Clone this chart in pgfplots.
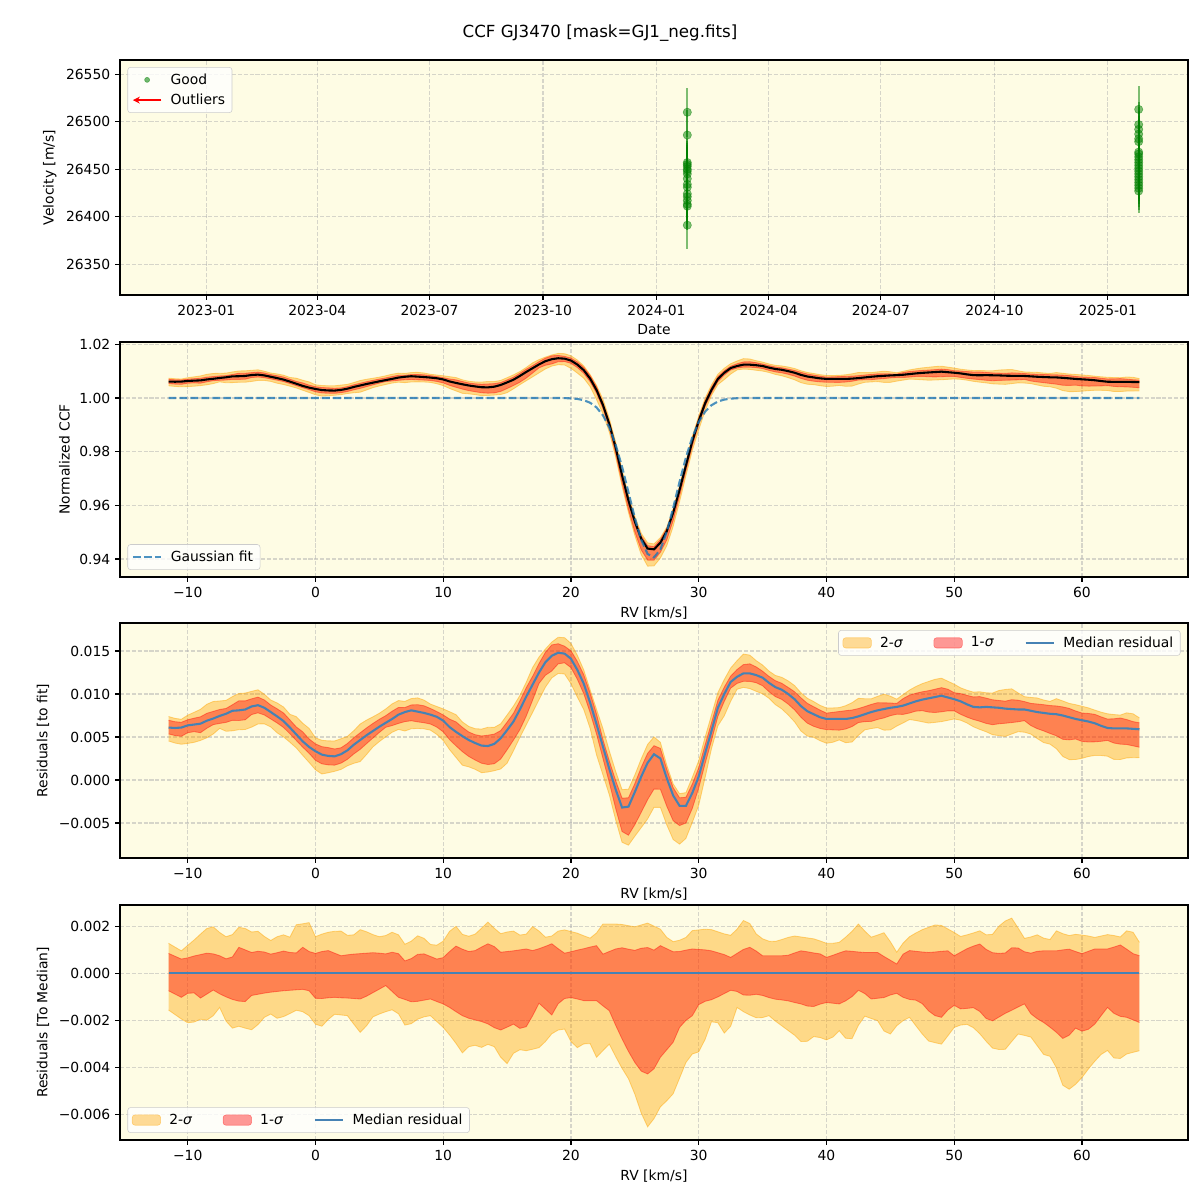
\documentclass[border=0pt]{standalone}
\usepackage{fontspec}
\setmainfont{DejaVu Sans}
\usepackage{pgfplots}
\usepackage{pgfplotstable}
\pgfplotsset{compat=1.18}
\usepgfplotslibrary{fillbetween}
\usetikzlibrary{arrows.meta}
\definecolor{bgy}{HTML}{FEFCE4}
\definecolor{gridc}{HTML}{B0B0B0}
\definecolor{mplgreen}{HTML}{008000}
\definecolor{mplorange}{HTML}{FFA500}
\definecolor{steel}{HTML}{4682B4}
\definecolor{fitblue}{HTML}{1F77B4}

\pgfplotstableread{
d v e
390 26510 26
390 26486 26
390 26457 25
390 26455 25
390 26453 25
390 26450 25
390 26448 25
390 26445 25
390 26440 25
390 26434 25
390 26431 25
390 26424 25
390 26421 25
390 26417 25
390 26413 25
390 26411 25
390 26391 25
756 26513 25
756 26497 24
756 26492 24
756 26487 24
756 26482 24
756 26479 24
756 26468 23
756 26466 23
756 26463 23
756 26460 23
756 26457 23
756 26454 23
756 26451 23
756 26448 23
756 26445 23
756 26442 23
756 26439 23
756 26436 23
756 26433 23
756 26430 23
756 26427 23
}\rvtab

\pgfplotstableread{
rv fit med lo2 lo1 hi1 hi2
-11.5 1 0.00610 -0.00156 -0.00074 0.00085 0.00128
-11.0 1 0.00605 -0.00175 -0.00088 0.00073 0.00112
-10.5 1 0.00610 -0.00194 -0.00102 0.00061 0.00096
-10.0 1 0.00635 -0.00210 -0.00085 0.00066 0.00119
-9.5 1 0.00645 -0.00207 -0.00083 0.00074 0.00142
-9.0 1 0.00655 -0.00195 -0.00105 0.00080 0.00167
-8.5 1 0.00690 -0.00199 -0.00088 0.00086 0.00191
-8.0 1 0.00715 -0.00180 -0.00071 0.00083 0.00198
-7.5 1 0.00745 -0.00145 -0.00087 0.00075 0.00174
-7.0 1 0.00770 -0.00203 -0.00100 0.00062 0.00156
-6.5 1 0.00805 -0.00233 -0.00111 0.00070 0.00165
-6.0 1 0.00810 -0.00225 -0.00118 0.00111 0.00196
-5.5 1 0.00820 -0.00233 -0.00120 0.00100 0.00191
-5.0 1 0.00855 -0.00240 -0.00094 0.00089 0.00176
-4.5 1 0.00870 -0.00218 -0.00089 0.00094 0.00179
-4.0 1 0.00840 -0.00187 -0.00084 0.00091 0.00157
-3.5 1 0.00790 -0.00173 -0.00080 0.00082 0.00140
-3.0 1 0.00740 -0.00191 -0.00077 0.00088 0.00156
-2.5 1 0.00685 -0.00184 -0.00074 0.00095 0.00164
-2.0 1 0.00610 -0.00171 -0.00072 0.00089 0.00154
-1.5 1 0.00530 -0.00157 -0.00070 0.00087 0.00207
-1.0 1 0.00450 -0.00163 -0.00068 0.00111 0.00211
-0.5 1 0.00385 -0.00180 -0.00074 0.00093 0.00216
0.0 1 0.00335 -0.00216 -0.00106 0.00085 0.00156
0.5 1 0.00295 -0.00225 -0.00107 0.00093 0.00167
1.0 1 0.00280 -0.00196 -0.00104 0.00097 0.00175
1.5 1 0.00275 -0.00174 -0.00102 0.00086 0.00179
2.0 1 0.00300 -0.00177 -0.00104 0.00075 0.00180
2.5 1 0.00345 -0.00180 -0.00105 0.00079 0.00162
3.0 1 0.00410 -0.00216 -0.00107 0.00082 0.00164
3.5 1 0.00465 -0.00251 -0.00109 0.00084 0.00186
4.0 1 0.00520 -0.00223 -0.00097 0.00086 0.00177
4.5 1 0.00570 -0.00185 -0.00082 0.00088 0.00165
5.0 1 0.00620 -0.00173 -0.00067 0.00086 0.00156
5.5 1 0.00665 -0.00163 -0.00052 0.00083 0.00161
6.0 1 0.00710 -0.00155 -0.00077 0.00090 0.00175
6.5 1 0.00760 -0.00172 -0.00102 0.00084 0.00164
7.0 1 0.00790 -0.00220 -0.00111 0.00053 0.00124
7.5 1 0.00810 -0.00214 -0.00121 0.00063 0.00137
8.0 1 0.00795 -0.00195 -0.00119 0.00081 0.00160
8.5 1 0.00780 -0.00185 -0.00114 0.00083 0.00149
9.0 1 0.00760 -0.00180 -0.00109 0.00072 0.00123
9.5 1 0.00735 -0.00205 -0.00120 0.00061 0.00120
10.0 1 0.00690 -0.00230 -0.00130 0.00067 0.00137
10.5 1 0.00615 -0.00262 -0.00145 0.00093 0.00179
11.0 1 0.00560 -0.00298 -0.00163 0.00116 0.00200
11.5 1 0.00510 -0.00338 -0.00180 0.00103 0.00166
12.0 1 0.00465 -0.00312 -0.00191 0.00093 0.00158
12.5 1 0.00430 -0.00306 -0.00198 0.00097 0.00167
13.0 1 0.00400 -0.00315 -0.00205 0.00112 0.00192
13.5 1 0.00395 -0.00302 -0.00215 0.00126 0.00218
14.0 1 0.00420 -0.00312 -0.00231 0.00114 0.00192
14.5 1 0.00485 -0.00357 -0.00241 0.00090 0.00169
15.0 1 0.00580 -0.00384 -0.00229 0.00093 0.00176
15.5 1 0.00680 -0.00340 -0.00216 0.00096 0.00180
16.0 1 0.00820 -0.00325 -0.00234 0.00100 0.00163
16.5 1 0.00970 -0.00329 -0.00227 0.00104 0.00167
17.0 1 0.01110 -0.00323 -0.00180 0.00097 0.00199
17.5 1 0.01250 -0.00316 -0.00127 0.00105 0.00180
18.0 1 0.01370 -0.00290 -0.00152 0.00115 0.00154
18.5 1 0.01445 -0.00257 -0.00177 0.00126 0.00159
19.0 1 0.01480 -0.00241 -0.00129 0.00105 0.00180
19.5 0.99994 0.01470 -0.00237 -0.00107 0.00086 0.00185
20.0 0.99985 0.01410 -0.00290 -0.00103 0.00092 0.00178
20.5 0.99963 0.01280 -0.00316 -0.00109 0.00099 0.00171
21.0 0.99916 0.01120 -0.00300 -0.00116 0.00105 0.00160
21.5 0.99822 0.00900 -0.00299 -0.00116 0.00112 0.00150
22.0 0.99648 0.00650 -0.00357 -0.00116 0.00118 0.00172
22.5 0.99355 0.00390 -0.00329 -0.00138 0.00082 0.00210
23.0 0.98901 0.00130 -0.00301 -0.00159 0.00093 0.00210
23.5 0.98258 -0.00110 -0.00354 -0.00221 0.00104 0.00210
24.0 0.97435 -0.00320 -0.00404 -0.00279 0.00109 0.00208
24.5 0.96489 -0.00310 -0.00448 -0.00332 0.00103 0.00203
25.0 0.95531 -0.00140 -0.00514 -0.00379 0.00098 0.00198
25.5 0.94714 0.00040 -0.00594 -0.00416 0.00107 0.00206
26.0 0.94187 0.00200 -0.00653 -0.00428 0.00110 0.00214
26.5 0.94059 0.00300 -0.00618 -0.00406 0.00099 0.00201
27.0 0.94355 0.00250 -0.00568 -0.00357 0.00118 0.00188
27.5 0.95014 0.00020 -0.00542 -0.00325 0.00105 0.00153
28.0 0.95906 -0.00180 -0.00512 -0.00293 0.00092 0.00135
28.5 0.96876 -0.00300 -0.00446 -0.00230 0.00093 0.00141
29.0 0.97784 -0.00300 -0.00379 -0.00200 0.00099 0.00153
29.5 0.98538 -0.00150 -0.00343 -0.00180 0.00104 0.00182
30.0 0.99104 0.00040 -0.00334 -0.00133 0.00102 0.00185
30.5 0.99489 0.00310 -0.00281 -0.00119 0.00100 0.00188
31.0 0.99730 0.00570 -0.00206 -0.00112 0.00096 0.00186
31.5 0.99867 0.00840 -0.00210 -0.00100 0.00088 0.00177
32.0 0.99939 0.01000 -0.00254 -0.00086 0.00080 0.00168
32.5 0.99974 0.01140 -0.00225 -0.00072 0.00068 0.00162
33.0 0.99990 0.01200 -0.00145 -0.00077 0.00085 0.00188
33.5 1 0.01240 -0.00163 -0.00092 0.00102 0.00225
34.0 1 0.01240 -0.00177 -0.00093 0.00111 0.00212
34.5 1 0.01220 -0.00189 -0.00089 0.00095 0.00168
35.0 1 0.01190 -0.00188 -0.00094 0.00075 0.00147
35.5 1 0.01130 -0.00180 -0.00103 0.00075 0.00137
36.0 1 0.01080 -0.00203 -0.00110 0.00075 0.00136
36.5 1 0.01050 -0.00223 -0.00113 0.00075 0.00144
37.0 1 0.01000 -0.00243 -0.00117 0.00077 0.00153
37.5 1 0.00940 -0.00263 -0.00124 0.00087 0.00159
38.0 1 0.00860 -0.00290 -0.00130 0.00096 0.00155
38.5 1 0.00800 -0.00289 -0.00139 0.00092 0.00151
39.0 1 0.00765 -0.00269 -0.00141 0.00087 0.00147
39.5 1 0.00730 -0.00273 -0.00131 0.00083 0.00138
40.0 1 0.00710 -0.00283 -0.00124 0.00068 0.00128
40.5 1 0.00710 -0.00271 -0.00127 0.00077 0.00128
41.0 1 0.00710 -0.00244 -0.00130 0.00087 0.00132
41.5 1 0.00710 -0.00276 -0.00117 0.00096 0.00154
42.0 1 0.00720 -0.00278 -0.00099 0.00094 0.00179
42.5 1 0.00740 -0.00221 -0.00072 0.00091 0.00210
43.0 1 0.00765 -0.00182 -0.00086 0.00089 0.00180
43.5 1 0.00790 -0.00192 -0.00109 0.00089 0.00154
44.0 1 0.00810 -0.00201 -0.00106 0.00089 0.00163
44.5 1 0.00825 -0.00245 -0.00103 0.00072 0.00173
45.0 1 0.00840 -0.00258 -0.00092 0.00056 0.00135
45.5 1 0.00850 -0.00223 -0.00085 0.00040 0.00090
46.0 1 0.00865 -0.00201 -0.00102 0.00082 0.00129
46.5 1 0.00890 -0.00187 -0.00111 0.00097 0.00156
47.0 1 0.00915 -0.00223 -0.00114 0.00094 0.00172
47.5 1 0.00935 -0.00258 -0.00129 0.00091 0.00186
48.0 1 0.00950 -0.00288 -0.00160 0.00089 0.00196
48.5 1 0.00965 -0.00295 -0.00180 0.00091 0.00206
49.0 1 0.00980 -0.00301 -0.00187 0.00094 0.00204
49.5 1 0.00960 -0.00266 -0.00156 0.00096 0.00189
50.0 1 0.00940 -0.00230 -0.00136 0.00075 0.00174
50.5 1 0.00915 -0.00220 -0.00151 0.00090 0.00157
51.0 1 0.00880 -0.00217 -0.00149 0.00105 0.00164
51.5 1 0.00850 -0.00231 -0.00146 0.00116 0.00172
52.0 1 0.00845 -0.00257 -0.00162 0.00125 0.00181
52.5 1 0.00850 -0.00289 -0.00192 0.00102 0.00164
53.0 1 0.00845 -0.00318 -0.00202 0.00088 0.00166
53.5 1 0.00840 -0.00324 -0.00186 0.00085 0.00201
54.0 1 0.00830 -0.00323 -0.00170 0.00087 0.00223
54.5 1 0.00825 -0.00290 -0.00157 0.00109 0.00235
55.0 1 0.00820 -0.00258 -0.00143 0.00108 0.00193
55.5 1 0.00820 -0.00264 -0.00130 0.00092 0.00149
56.0 1 0.00805 -0.00271 -0.00172 0.00086 0.00155
56.5 1 0.00790 -0.00308 -0.00193 0.00094 0.00164
57.0 1 0.00780 -0.00345 -0.00209 0.00096 0.00150
57.5 1 0.00770 -0.00353 -0.00229 0.00096 0.00144
58.0 1 0.00765 -0.00402 -0.00251 0.00096 0.00181
58.5 1 0.00750 -0.00476 -0.00277 0.00100 0.00169
59.0 1 0.00730 -0.00493 -0.00263 0.00103 0.00161
59.5 1 0.00710 -0.00472 -0.00233 0.00093 0.00166
60.0 1 0.00695 -0.00443 -0.00246 0.00084 0.00163
60.5 1 0.00680 -0.00407 -0.00238 0.00094 0.00159
61.0 1 0.00660 -0.00374 -0.00216 0.00104 0.00153
61.5 1 0.00630 -0.00345 -0.00180 0.00104 0.00159
62.0 1 0.00605 -0.00328 -0.00145 0.00104 0.00165
62.5 1 0.00600 -0.00360 -0.00170 0.00112 0.00161
63.0 1 0.00600 -0.00362 -0.00183 0.00121 0.00155
63.5 1 0.00600 -0.00343 -0.00187 0.00103 0.00181
64.0 1 0.00595 -0.00336 -0.00198 0.00084 0.00175
64.5 1 0.00590 -0.00329 -0.00209 0.00075 0.00132
}\res

\pgfplotsset{
  base/.style={
    scale only axis, width=768.96pt, height=169.2pt, anchor=south west,
    axis background/.style={fill=bgy},
    grid=major,
    major grid style={draw=gridc, draw opacity=0.5, line width=0.8pt, dash pattern=on 2.96pt off 1.28pt},
    axis line style={line width=0.8pt, black},
    tick align=outside, major tick length=3.5pt,
    every tick/.style={black, line width=0.8pt},
    tick pos=left,
    scaled ticks=false,
    ticklabel style={font=\fontsize{10}{12}\selectfont},
    label style={font=\fontsize{10}{12}\selectfont},
    legend cell align=left,
    legend style={font=\fontsize{10}{12}\selectfont, draw=black!20, rounded corners=2pt,
      fill=white, fill opacity=0.8, text opacity=1,
      inner xsep=3pt, inner ysep=2.5pt, row sep=1.5pt,
      /tikz/every odd column/.append style={column sep=4pt}},
  },
  rvaxis/.style={
    xmin=-15.3, xmax=68.3,
    xtick={-10,0,10,20,30,40,50,60},
    xticklabels={−10,0,10,20,30,40,50,60},
    xlabel={RV [km/s]},
  },
  threeleg/.style={
    legend columns=3,
    legend style={/tikz/every even column/.append style={column sep=20pt}},
  },
  patchleg/.style={legend image code/.code={\draw[#1] (0cm,-0.13cm) rectangle (0.72cm,0.13cm);}},
  lineleg/.style={legend image code/.code={\draw[#1] (0cm,0cm) -- (0.72cm,0cm);}},
  e2/.style={forget plot, draw=mplorange, draw opacity=0.45, line width=0.6pt},
  e1/.style={forget plot, draw=red, draw opacity=0.4, line width=0.6pt},
  f2/.style={forget plot, fill=mplorange, fill opacity=0.4, draw=none},
  f1/.style={forget plot, fill=red, fill opacity=0.4, draw=none},
}

\begin{document}
\begin{tikzpicture}
\path (0pt,0pt) rectangle (864pt,864pt);
\node[font=\fontsize{12}{14}\selectfont] at (432pt,840.2pt) {CCF GJ3470 [mask=GJ1\_neg.fits]};

% ---------------- Panel 1
\begin{axis}[base, at={(86.4pt,651.6pt)},
  xmin=-70, xmax=796, ymin=26317.4, ymax=26565.1,
  xtick={0,90,181,273,365,456,547,639,731},
  xticklabels={2023-01,2023-04,2023-07,2023-10,2024-01,2024-04,2024-07,2024-10,2025-01},
  ytick={26350,26400,26450,26500,26550},
  yticklabels={26350,26400,26450,26500,26550},
  xlabel={Date}, ylabel={Velocity [m/s]},
  legend style={at={(0.007,0.97)}, anchor=north west}]
\addlegendimage{legend image code/.code={\fill[mplgreen, opacity=0.55] (0.36cm,0cm) circle (1.8pt);}}
\addlegendentry{Good}
\addlegendimage{legend image code/.code={\draw[red, line width=1.4pt, -{Stealth[length=5pt, width=5pt]}] (0.72cm,0cm) -- (0cm,0cm);}}
\addlegendentry{Outliers}
\addplot[forget plot, only marks, mark=*, mark size=3pt,
  mark options={draw=mplgreen, fill=mplgreen, opacity=0.5},
  error bars/.cd, y dir=both, y explicit, error mark=none,
  error bar style={mplgreen, opacity=0.5, line width=1.3pt}]
  table[x=d, y=v, y error=e] {\rvtab};
\end{axis}

% ---------------- Panel 2
\begin{axis}[base, rvaxis, at={(86.4pt,448.56pt)},
  ymin=0.93329, ymax=1.02086,
  ytick={0.94,0.96,0.98,1.00,1.02},
  yticklabels={0.94,0.96,0.98,1.00,1.02},
  ylabel={Normalized CCF},
  legend style={at={(0.007,0.03)}, anchor=south west}]
\addlegendimage{lineleg, fitblue, opacity=0.8, line width=1.5pt, dash pattern=on 5.5pt off 2.4pt}
\addlegendentry{Gaussian fit}
\addplot[e2, name path=pa2] table[x=rv, y expr=\thisrow{fit}+\thisrow{med}+\thisrow{hi2}] {\res};
\addplot[e2, name path=pb2] table[x=rv, y expr=\thisrow{fit}+\thisrow{med}+\thisrow{lo2}] {\res};
\addplot[f2] fill between[of=pa2 and pb2];
\addplot[e1, name path=pa1] table[x=rv, y expr=\thisrow{fit}+\thisrow{med}+\thisrow{hi1}] {\res};
\addplot[e1, name path=pb1] table[x=rv, y expr=\thisrow{fit}+\thisrow{med}+\thisrow{lo1}] {\res};
\addplot[f1] fill between[of=pa1 and pb1];
\addplot[forget plot, black, line width=1.5pt] table[x=rv, y expr=\thisrow{fit}+\thisrow{med}] {\res};
\addplot[forget plot, fitblue, opacity=0.8, line width=1.5pt, dash pattern=on 5.5pt off 2.4pt] table[x=rv, y=fit] {\res};
\end{axis}

% ---------------- Panel 3
\begin{axis}[base, rvaxis, threeleg, at={(86.4pt,246.24pt)},
  ymin=-0.00907, ymax=0.01826,
  ytick={-0.005,0,0.005,0.01,0.015},
  yticklabels={−0.005,0.000,0.005,0.010,0.015},
  ylabel={Residuals [to fit]},
  legend style={at={(0.993,0.97)}, anchor=north east}]
\addlegendimage{patchleg, fill=mplorange, fill opacity=0.4, draw=mplorange, draw opacity=0.45}
\addlegendentry{2-\textit{σ}}
\addlegendimage{patchleg, fill=red, fill opacity=0.4, draw=red, draw opacity=0.4}
\addlegendentry{1-\textit{σ}}
\addlegendimage{lineleg, steel, line width=1.5pt}
\addlegendentry{Median residual}
\addplot[e2, name path=qa2] table[x=rv, y expr=\thisrow{med}+\thisrow{hi2}] {\res};
\addplot[e2, name path=qb2] table[x=rv, y expr=\thisrow{med}+\thisrow{lo2}] {\res};
\addplot[f2] fill between[of=qa2 and qb2];
\addplot[e1, name path=qa1] table[x=rv, y expr=\thisrow{med}+\thisrow{hi1}] {\res};
\addplot[e1, name path=qb1] table[x=rv, y expr=\thisrow{med}+\thisrow{lo1}] {\res};
\addplot[f1] fill between[of=qa1 and qb1];
\addplot[forget plot, steel, line width=1.5pt] table[x=rv, y=med] {\res};
\end{axis}

% ---------------- Panel 4
\begin{axis}[base, rvaxis, threeleg, at={(86.4pt,43.2pt)},
  ymin=-0.00709, ymax=0.00291,
  ytick={-0.006,-0.004,-0.002,0,0.002},
  yticklabels={−0.006,−0.004,−0.002,0.000,0.002},
  ylabel={Residuals [To Median]},
  legend style={at={(0.007,0.03)}, anchor=south west}]
\addlegendimage{patchleg, fill=mplorange, fill opacity=0.4, draw=mplorange, draw opacity=0.45}
\addlegendentry{2-\textit{σ}}
\addlegendimage{patchleg, fill=red, fill opacity=0.4, draw=red, draw opacity=0.4}
\addlegendentry{1-\textit{σ}}
\addlegendimage{lineleg, steel, line width=1.5pt}
\addlegendentry{Median residual}
\addplot[e2, name path=ra2] table[x=rv, y=hi2] {\res};
\addplot[e2, name path=rb2] table[x=rv, y=lo2] {\res};
\addplot[f2] fill between[of=ra2 and rb2];
\addplot[e1, name path=ra1] table[x=rv, y=hi1] {\res};
\addplot[e1, name path=rb1] table[x=rv, y=lo1] {\res};
\addplot[f1] fill between[of=ra1 and rb1];
\addplot[forget plot, steel, line width=1.5pt] coordinates {(-11.5,0) (64.5,0)};
\end{axis}
\end{tikzpicture}
\end{document}
